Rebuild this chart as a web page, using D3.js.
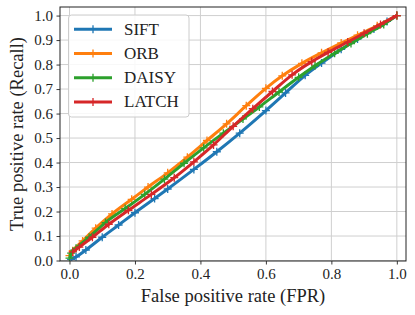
<!DOCTYPE html>
<html><head><meta charset="utf-8">
<script src="https://cdn.jsdelivr.net/npm/d3@7"></script>
<style>body{margin:0;background:#fff}svg{display:block}</style>
</head><body><svg id="c" width="415" height="315"></svg>
<script>
const seriesNames = ["SIFT", "ORB", "DAISY", "LATCH"];
const colors = ["#1f77b4", "#ff7f0e", "#2ca02c", "#d62728"];
const siftFpr = [0.005,0.02,0.05,0.1,0.15,0.2,0.26,0.3,0.38,0.45,0.52,0.6,0.66,0.72,0.77,0.83,0.88,0.93,0.97,1.0];
const siftTpr = [0.005,0.015,0.043,0.095,0.145,0.195,0.253,0.292,0.372,0.444,0.52,0.612,0.684,0.756,0.806,0.862,0.904,0.945,0.976,1.0];
const orbFpr = [0,0.01,0.04,0.08,0.13,0.19,0.24,0.3,0.36,0.42,0.48,0.54,0.6,0.65,0.71,0.77,0.83,0.88,0.94,1.0];
const orbTpr = [0.02,0.04,0.08,0.132,0.19,0.25,0.3,0.358,0.422,0.49,0.558,0.632,0.703,0.754,0.805,0.848,0.888,0.92,0.958,1.0];
const daisyFpr = [0,0.005,0.02,0.06,0.11,0.17,0.23,0.29,0.35,0.41,0.47,0.53,0.58,0.64,0.7,0.75,0.81,0.86,0.91,0.96,1.0];
const daisyTpr = [0.01,0.03,0.05,0.095,0.155,0.212,0.27,0.332,0.397,0.46,0.52,0.578,0.627,0.688,0.748,0.795,0.846,0.886,0.926,0.964,1.0];
const latchFpr = [0.01,0.03,0.07,0.12,0.18,0.25,0.32,0.38,0.44,0.5,0.56,0.62,0.68,0.74,0.79,0.85,0.9,0.95,1.0];
const latchTpr = [0.035,0.055,0.095,0.148,0.205,0.27,0.338,0.403,0.472,0.548,0.62,0.69,0.758,0.812,0.85,0.892,0.928,0.964,1.0];
const xTicks = [0,0.2,0.4,0.6,0.8,1.0];
const yTicks = [0,0.1,0.2,0.3,0.4,0.5,0.6,0.7,0.8,0.9,1.0];
const xLabel = "False positive rate (FPR)";
const yLabel = "True positive rate (Recall)";

const fprs = [siftFpr, orbFpr, daisyFpr, latchFpr];
const tprs = [siftTpr, orbTpr, daisyTpr, latchTpr];
const series = seriesNames.map((n,i)=>({name:n,color:colors[i],pts:fprs[i].map((f,j)=>[f,tprs[i][j]])}));

const m = {l:60, r:9, t:7, b:54};
const W = 415, H = 315;
const svg = d3.select("#c");
const x = d3.scaleLinear().domain([-0.029,1.028]).range([m.l, W-m.r]);
const y = d3.scaleLinear().domain([-0.002,1.035]).range([H-m.b, m.t]);
const font = "'Liberation Serif', 'DejaVu Serif', serif";

// grid
const g = svg.append("g");
g.selectAll(".gx").data(xTicks).enter().append("line")
  .attr("x1",d=>x(d)).attr("x2",d=>x(d)).attr("y1",m.t).attr("y2",H-m.b)
  .attr("stroke","#cfcfcf").attr("stroke-width",1);
g.selectAll(".gy").data(yTicks).enter().append("line")
  .attr("y1",d=>y(d)).attr("y2",d=>y(d)).attr("x1",m.l).attr("x2",W-m.r)
  .attr("stroke","#cfcfcf").attr("stroke-width",1);

// series
svg.append("clipPath").attr("id","cp").append("rect")
  .attr("x",m.l).attr("y",m.t).attr("width",W-m.r-m.l).attr("height",H-m.b-m.t);
const line = d3.line().curve(d3.curveMonotoneX).x(d=>x(d[0])).y(d=>y(d[1]));
const sg = svg.append("g").attr("clip-path","url(#cp)");
series.forEach(s=>{
  const gg = sg.append("g");
  gg.append("path").attr("d",line(s.pts)).attr("fill","none")
    .attr("stroke",s.color).attr("stroke-width",3).attr("stroke-linejoin","round");
  gg.selectAll("path.mk").data(s.pts).enter().append("path").attr("class","mk")
    .attr("d",d=>{const cx=x(d[0]),cy=y(d[1]),r=4;return `M${cx-r},${cy}H${cx+r}M${cx},${cy-r}V${cy+r}`;})
    .attr("stroke",s.color).attr("stroke-width",1.3).attr("fill","none");
});

// axes
const xa = svg.append("g").attr("transform",`translate(0,${H-m.b})`)
  .call(d3.axisBottom(x).tickValues(xTicks).tickFormat(d3.format(".1f")).tickSizeOuter(0).tickSize(3.5).tickPadding(3.5));
const ya = svg.append("g").attr("transform",`translate(${m.l},0)`)
  .call(d3.axisLeft(y).tickValues(yTicks).tickFormat(d3.format(".1f")).tickSizeOuter(0).tickSize(3.5).tickPadding(3.5));
[xa,ya].forEach(a=>{
  a.select(".domain").remove();
  a.selectAll("text").attr("font-family",font).attr("font-size",15).attr("fill","#222");
  a.selectAll("line").attr("stroke","#222").attr("stroke-width",0.9);
});
svg.append("rect").attr("x",m.l).attr("y",m.t).attr("width",W-m.r-m.l).attr("height",H-m.b-m.t)
  .attr("fill","none").attr("stroke","#222").attr("stroke-width",1);

svg.append("text").attr("x",(m.l+W-m.r)/2).attr("y",302).attr("text-anchor","middle")
  .attr("font-family",font).attr("font-size",18.5).attr("fill","#222").text(xLabel);
svg.append("text").attr("transform",`translate(23,${(m.t+H-m.b)/2}) rotate(-90)`).attr("text-anchor","middle")
  .attr("font-family",font).attr("font-size",18.5).attr("fill","#222").text(yLabel);

// legend
const lg = svg.append("g");
lg.append("rect").attr("x",68.5).attr("y",15).attr("width",120.5).attr("height",102).attr("rx",3)
  .attr("fill","#fff").attr("fill-opacity",0.85).attr("stroke","#ccc").attr("stroke-width",1);
series.forEach((s,i)=>{
  const yy = 29.3 + i*24.2;
  lg.append("line").attr("x1",74).attr("x2",112).attr("y1",yy).attr("y2",yy)
    .attr("stroke",s.color).attr("stroke-width",3);
  lg.append("path").attr("d",`M${93-4},${yy}H${93+4}M93,${yy-4}V${yy+4}`)
    .attr("stroke",s.color).attr("stroke-width",1.3);
  lg.append("text").attr("x",124).attr("y",yy+5.5).attr("font-family",font).attr("font-size",17)
    .attr("fill","#222").text(s.name);
});
</script></body></html>
